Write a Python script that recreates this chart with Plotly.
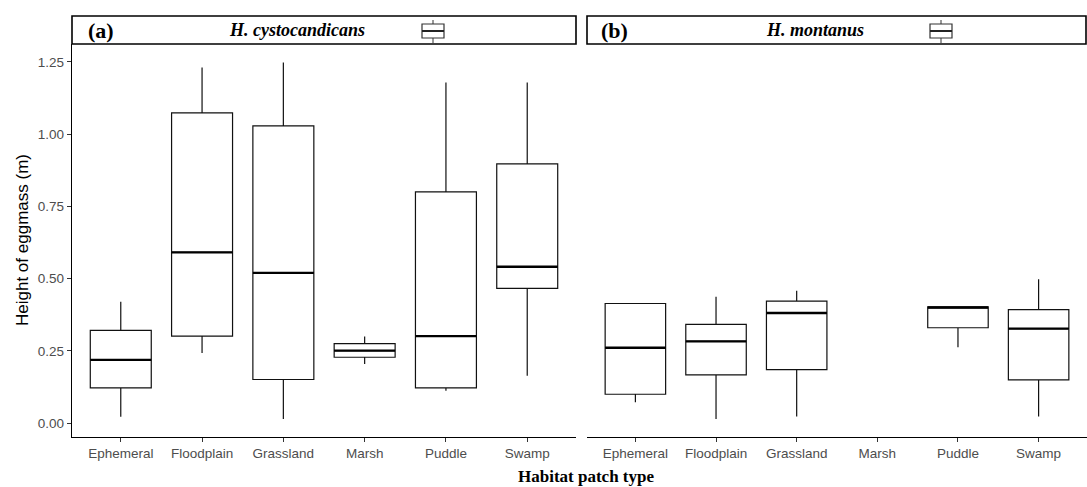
import plotly.graph_objects as go

categories = ["Ephemeral", "Floodplain", "Grassland", "Marsh", "Puddle", "Swamp"]

# Panel (a): H. cystocandicans
a_lower = [0.022, 0.243, 0.014, 0.205, 0.112, 0.164]
a_q1 = [0.122, 0.301, 0.151, 0.228, 0.122, 0.466]
a_median = [0.219, 0.591, 0.520, 0.251, 0.301, 0.541]
a_q3 = [0.321, 1.074, 1.029, 0.275, 0.800, 0.897]
a_upper = [0.420, 1.231, 1.248, 0.300, 1.179, 1.179]

# Panel (b): H. montanus (no Marsh data)
b_cats = ["Ephemeral", "Floodplain", "Grassland", "Puddle", "Swamp"]
b_lower = [0.072, 0.014, 0.023, 0.263, 0.023]
b_q1 = [0.100, 0.167, 0.185, 0.330, 0.150]
b_median = [0.261, 0.283, 0.381, 0.400, 0.327]
b_q3 = [0.414, 0.342, 0.422, 0.402, 0.393]
b_upper = [0.414, 0.437, 0.458, 0.402, 0.498]

y_ticks = [0.00, 0.25, 0.50, 0.75, 1.00, 1.25]
y_ticktext = ["0.00", "0.25", "0.50", "0.75", "1.00", "1.25"]

W, H = 1087, 487
ml, mr, mt, mb = 72, 0, 44, 50
pw = W - ml - mr
ph = H - mt - mb

fig = go.Figure()


def add_panel(cats, lo, q1, med, q3, up, xa, ya):
    fig.add_trace(go.Box(
        x=cats, q1=q1, median=med, q3=q3, lowerfence=lo, upperfence=up,
        xaxis=xa, yaxis=ya, width=0.75, whiskerwidth=0, boxpoints=False,
        fillcolor="white", line=dict(color="#111111", width=1.2),
        showlegend=False, hoverinfo="skip"))
    # thicker median line overlay
    fig.add_trace(go.Box(
        x=cats, q1=med, median=med, q3=med, lowerfence=med, upperfence=med,
        xaxis=xa, yaxis=ya, width=0.75, whiskerwidth=0, boxpoints=False,
        fillcolor="rgba(0,0,0,0)", line=dict(color="black", width=2.4),
        showlegend=False, hoverinfo="skip"))


add_panel(categories, a_lower, a_q1, a_median, a_q3, a_upper, "x", "y")
add_panel(b_cats, b_lower, b_q1, b_median, b_q3, b_upper, "x2", "y2")

da = [0, (576 - ml) / pw]
db = [(587 - ml) / pw, 1.0]
yr = [-0.048, 1.312]
tickfont = dict(family="Liberation Sans, Arial", size=13.5, color="#4d4d4d")

common_x = dict(type="category", categoryorder="array", categoryarray=categories,
                range=[-0.6, 5.6], showline=True, linecolor="black", linewidth=1.2,
                ticks="outside", ticklen=4, tickcolor="#333333", tickwidth=1,
                tickfont=tickfont, showgrid=False, zeroline=False, fixedrange=True,
                automargin=False)

fig.update_layout(
    template="none",
    width=W, height=H,
    margin=dict(l=ml, r=mr, t=mt, b=mb, autoexpand=False),
    paper_bgcolor="white", plot_bgcolor="white",
    boxmode="overlay",
    xaxis=dict(domain=da, anchor="y", **common_x),
    xaxis2=dict(domain=db, anchor="y2", **common_x),
    yaxis=dict(range=yr, tickvals=y_ticks, ticktext=y_ticktext, showline=True,
               linecolor="black", linewidth=1.2, ticks="outside", ticklen=4,
               tickcolor="#333333", tickfont=tickfont, showgrid=False,
               zeroline=False, automargin=False),
    yaxis2=dict(range=yr, anchor="x2", showline=False, showticklabels=False,
                ticks="", showgrid=False, zeroline=False, automargin=False),
    font=dict(family="Liberation Sans, Arial"),
)

# Strips
sy0 = 1.0
sy1 = 1.0 + (44 - 16) / ph


def px_x(px):
    return (px - ml) / pw


def px_y(py):
    return (H - mb - py) / ph


shapes = []
for (x0, x1) in [(72, 576), (587, 1086)]:
    shapes.append(dict(type="rect", xref="paper", yref="paper",
                       x0=px_x(x0), x1=px_x(x1), y0=sy0, y1=sy1,
                       line=dict(color="black", width=1.6), fillcolor="white",
                       layer="above"))

# strip legend glyphs (small box key)
for cx in [433, 941]:
    bx0, bx1 = cx - 11, cx + 11
    shapes.append(dict(type="line", xref="paper", yref="paper",
                       x0=px_x(cx), x1=px_x(cx), y0=px_y(20), y1=px_y(43),
                       line=dict(color="#333333", width=1)))
    shapes.append(dict(type="rect", xref="paper", yref="paper",
                       x0=px_x(bx0), x1=px_x(bx1), y0=px_y(24), y1=px_y(38),
                       line=dict(color="#333333", width=1.2), fillcolor="white"))
    shapes.append(dict(type="line", xref="paper", yref="paper",
                       x0=px_x(bx0), x1=px_x(bx1), y0=px_y(31), y1=px_y(31),
                       line=dict(color="#222222", width=2)))

fig.update_layout(shapes=shapes)

serif = "Liberation Serif, Times New Roman"
ann = []
ann.append(dict(text="<b>(a)</b>", x=px_x(86), y=px_y(31), xref="paper", yref="paper",
                xanchor="left", yanchor="middle", showarrow=False,
                font=dict(family=serif, size=22, color="black")))
ann.append(dict(text="<b><i>H. cystocandicans</i></b>", x=px_x(297), y=px_y(30),
                xref="paper", yref="paper", xanchor="center", yanchor="middle",
                showarrow=False, font=dict(family=serif, size=18, color="black")))
ann.append(dict(text="<b>(b)</b>", x=px_x(599), y=px_y(31), xref="paper", yref="paper",
                xanchor="left", yanchor="middle", showarrow=False,
                font=dict(family=serif, size=22, color="black")))
ann.append(dict(text="<b><i>H. montanus</i></b>", x=px_x(815), y=px_y(30),
                xref="paper", yref="paper", xanchor="center", yanchor="middle",
                showarrow=False, font=dict(family=serif, size=18, color="black")))
ann.append(dict(text="<b>Habitat patch type</b>", x=px_x(586), y=px_y(476),
                xref="paper", yref="paper", xanchor="center", yanchor="middle",
                showarrow=False, font=dict(family=serif, size=17, color="black")))
ann.append(dict(text="Height of eggmass (m)", x=px_x(22), y=px_y(240),
                xref="paper", yref="paper", xanchor="center", yanchor="middle",
                textangle=-90, showarrow=False,
                font=dict(family="Liberation Sans, Arial", size=17, color="black")))
fig.update_layout(annotations=ann)

fig.write_html("out.html", config={"displayModeBar": False, "staticPlot": True},
               post_script="document.body.style.margin='0px';document.body.style.overflow='hidden';")
